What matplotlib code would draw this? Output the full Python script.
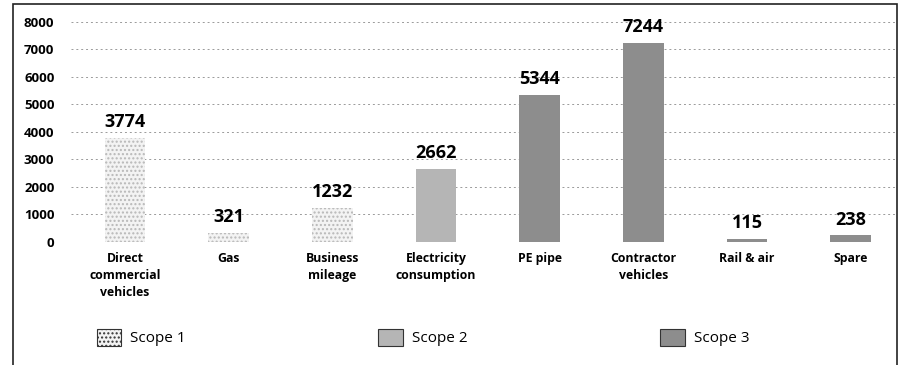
import matplotlib.pyplot as plt
from matplotlib.patches import Patch, Rectangle

# ----------------------- #
# Emissions by source, bar chart (scanned report)
# ----------------------- #

categories = ['Direct\ncommercial\nvehicles', 'Gas', 'Business\nmileage', 'Electricity\nconsumption',
              'PE pipe', 'Contractor\nvehicles', 'Rail & air', 'Spare']
values = [3774, 321, 1232, 2662, 5344, 7244, 115, 238]
scopes = ['Scope 1', 'Scope 1', 'Scope 1', 'Scope 2', 'Scope 3', 'Scope 3', 'Scope 3', 'Scope 3']
y_ticks = [0, 1000, 2000, 3000, 4000, 5000, 6000, 7000, 8000]

plt.rcParams['font.family'] = ['Open Sans', 'DejaVu Sans']

# 每个 scope 的填充样式
styles = {
    'Scope 1': dict(facecolor='#f3f3f3', hatch='....', edgecolor='#b8b8b8', linewidth=0),
    'Scope 2': dict(facecolor='#b5b5b5', hatch='', edgecolor='#b5b5b5', linewidth=0),
    'Scope 3': dict(facecolor='#8d8d8d', hatch='', edgecolor='#8d8d8d', linewidth=0),
}

fig = plt.figure(figsize=(9, 3.65), dpi=100)
ax = fig.add_axes([0.079, 0.337, 0.918, 0.603])

x = list(range(len(categories)))
for i, v in enumerate(values):
    ax.bar(x[i], v, width=0.39, **styles[scopes[i]])
    ax.annotate(str(v), (x[i], v), xytext=(0, 5), textcoords='offset points',
                ha='center', va='bottom', fontsize=13, fontweight='bold')

ax.set_xlim(-0.52, 7.45)
ax.set_ylim(0, 8000)
ax.set_yticks(y_ticks)
ax.set_yticklabels([str(t) for t in y_ticks], fontsize=9.5, fontweight='bold')
ax.set_xticks(x)
ax.set_xticklabels(categories, fontsize=8.8, fontweight='bold', linespacing=1.4)
ax.tick_params(length=0, pad=7)
ax.tick_params(axis='y', pad=12)
ax.yaxis.grid(True, linestyle=(0, (2, 3)), color='#9a9a9a', linewidth=0.7)
ax.set_axisbelow(True)
for s in ax.spines.values():
    s.set_visible(False)

# 外框
fig.patches.append(Rectangle((0.0145, -0.05), 0.982, 1.04, transform=fig.transFigure,
                             fill=False, edgecolor='#222222', linewidth=1.2))

handles = [Patch(facecolor=styles[s]['facecolor'], hatch=styles[s]['hatch'], edgecolor='#333333',
                 linewidth=0.8, label=s) for s in ['Scope 1', 'Scope 2', 'Scope 3']]
fig.legend(handles=handles, loc='center', bbox_to_anchor=(0.47, 0.075), ncol=3, frameon=False,
           fontsize=11, handlelength=1.6, handleheight=1.3, columnspacing=12.6, handletextpad=0.6)

plt.savefig('out.png', dpi=100)
plt.close()
